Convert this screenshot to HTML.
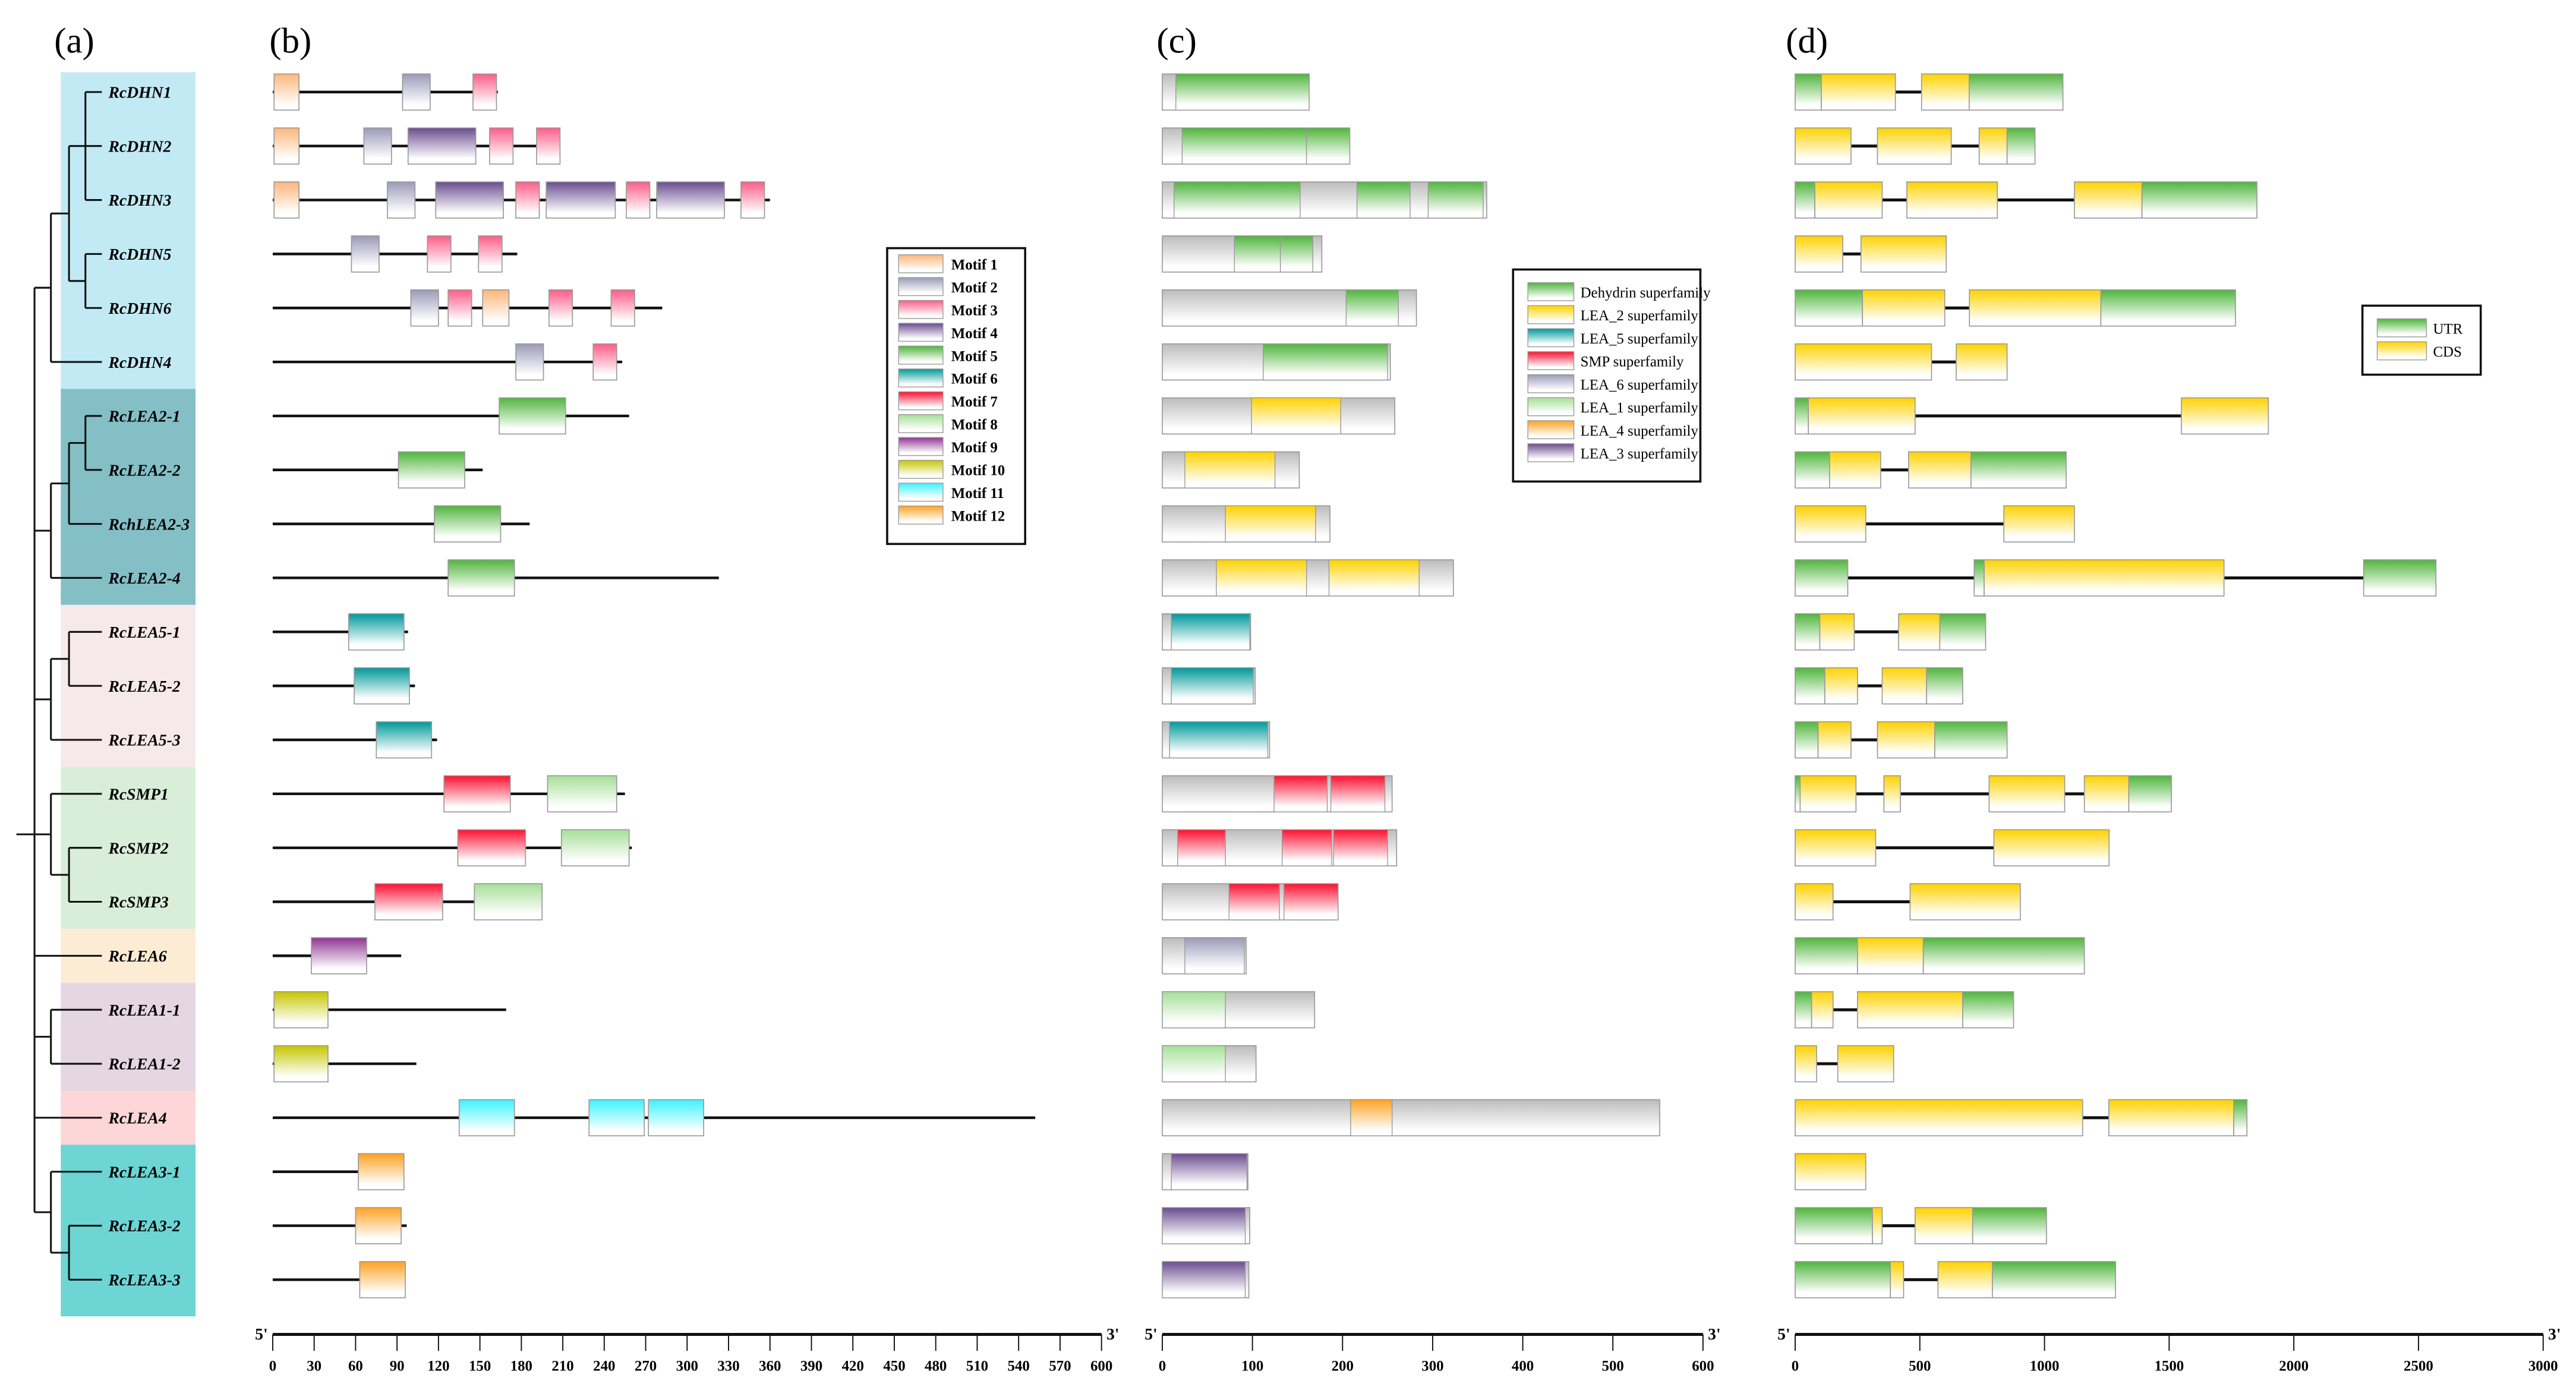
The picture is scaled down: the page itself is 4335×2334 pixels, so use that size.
<!DOCTYPE html>
<html><head><meta charset="utf-8"><style>
html,body{margin:0;padding:0;background:#fff;}
svg{display:block;}
text{font-family:"Liberation Serif",serif;}
</style></head><body>
<svg id="fig" width="4335" height="2334" viewBox="0 0 1568 844" preserveAspectRatio="none" xmlns="http://www.w3.org/2000/svg">
<defs id="defs"></defs>
<g id="bands"></g><g id="tree"></g><g id="panelb"></g><g id="panelc"></g><g id="paneld"></g><g id="legends"></g><g id="axes"></g>
<text x="33" y="32" font-size="22">(a)</text>
<text x="164" y="32" font-size="22">(b)</text>
<text x="704" y="32" font-size="22">(c)</text>
<text x="1087" y="32" font-size="22">(d)</text>
</svg>
<script>
const genes=["RcDHN1","RcDHN2","RcDHN3","RcDHN5","RcDHN6","RcDHN4","RcLEA2-1","RcLEA2-2","RchLEA2-3","RcLEA2-4","RcLEA5-1","RcLEA5-2","RcLEA5-3","RcSMP1","RcSMP2","RcSMP3","RcLEA6","RcLEA1-1","RcLEA1-2","RcLEA4","RcLEA3-1","RcLEA3-2","RcLEA3-3"];
const groupNames=["DHN","LEA2","LEA5","SMP","LEA6","LEA1","LEA4","LEA3"];
const groupStart=[0,6,10,13,16,17,19,20];
const groupEnd=[5,9,12,15,16,18,19,22];
const groupColors=["#c2eaf4","#84bfc6","#f6e9ea","#d9eed9","#fcecd4","#e4d6e2","#fdd7d8","#6dd5d4"];
const proteinLen=[163,208,360,177,282,253,258,152,186,323,98,103,119,255,260,195,93,169,104,552,95,97,96];
const motifs=[
 [[1,1,19],[2,94,114],[3,145,162]],
 [[1,1,19],[2,66,86],[4,98,147],[3,157,174],[3,191,208]],
 [[1,1,19],[2,83,103],[4,118,167],[3,176,193],[4,198,248],[3,256,273],[4,278,327],[3,339,356]],
 [[2,57,77],[3,112,129],[3,149,166]],
 [[2,100,120],[3,127,144],[1,152,171],[3,200,217],[3,245,262]],
 [[2,176,196],[3,232,249]],
 [[5,164,212]],[[5,91,139]],[[5,117,165]],[[5,127,175]],
 [[6,55,95]],[[6,59,99]],[[6,75,115]],
 [[7,124,172],[8,199,249]],[[7,134,183],[8,209,258]],[[7,74,123],[8,146,195]],
 [[9,28,68]],[[10,1,40]],[[10,1,40]],
 [[11,135,175],[11,229,269],[11,272,312]],
 [[12,62,95]],[[12,60,93]],[[12,63,96]]];
const motifColors=["#ffb67a","#9c9ab8","#ff5c88","#6b4d90","#4fb53c","#00999a","#ff1030","#a6df98","#8f3592","#c6c600","#3cf2ff","#ffa224"];
const domains=[
 [["DEH",15,163]],[["DEH",22,160],["DEH",160,208]],[["DEH",13,153],["DEH",216,275],["DEH",295,356]],
 [["DEH",80,131],["DEH",131,167]],[["DEH",204,262]],[["DEH",112,250]],
 [["LEA2",99,198]],[["LEA2",25,125]],[["LEA2",70,170]],[["LEA2",60,160],["LEA2",185,285]],
 [["LEA5",10,97]],[["LEA5",10,101]],[["LEA5",8,117]],
 [["SMP",124,183],["SMP",187,247]],[["SMP",17,70],["SMP",133,188],["SMP",190,250]],[["SMP",74,130],["SMP",135,195]],
 [["LEA6",25,91]],[["LEA1",0,70]],[["LEA1",0,70]],[["LEA4",209,255]],
 [["LEA3",10,94]],[["LEA3",0,92]],[["LEA3",0,92]]];
const domainKeys=["DEH","LEA2","LEA5","SMP","LEA6","LEA1","LEA4","LEA3"];
const domainLabels=["Dehydrin superfamily","LEA_2 superfamily","LEA_5 superfamily","SMP superfamily","LEA_6 superfamily","LEA_1 superfamily","LEA_4 superfamily","LEA_3 superfamily"];
const domainColors=["#4fb53c","#ffd200","#00999a","#ff1030","#9c9ab8","#a6df98","#ffa224","#6b4d90"];
const geneStruct=[
 [["U",0,105],["C",105,402],["C",507,698],["U",698,1074]],
 [["C",0,224],["C",330,626],["C",738,850],["U",850,962]],
 [["U",0,79],["C",79,349],["C",448,811],["C",1120,1391],["U",1391,1852]],
 [["C",0,191],["C",264,606]],
 [["U",0,270],["C",270,600],["C",699,1226],["U",1226,1766]],
 [["C",0,547],["C",646,850]],
 [["U",0,53],["C",53,481],["C",1549,1898]],
 [["U",0,138],["C",138,343],["C",455,705],["U",705,1087]],
 [["C",0,283],["C",837,1120]],
 [["U",0,211],["U",718,758],["C",758,1720],["U",2280,2570]],
 [["U",0,99],["C",99,237],["C",415,580],["U",580,764]],
 [["U",0,119],["C",119,250],["C",349,527],["U",527,672]],
 [["U",0,92],["C",92,224],["C",330,560],["U",560,850]],
 [["U",0,20],["C",20,244],["C",356,422],["C",778,1081],["C",1160,1338],["U",1338,1509]],
 [["C",0,323],["C",797,1259]],
 [["C",0,152],["C",461,903]],
 [["U",0,250],["C",250,514],["U",514,1160]],
 [["U",0,66],["C",66,152],["C",250,672],["U",672,876]],
 [["C",0,86],["C",171,395]],
 [["C",0,1153],["C",1258,1759],["U",1759,1812]],
 [["C",0,283]],
 [["U",0,310],["C",310,349],["C",481,712],["U",712,1008]],
 [["U",0,382],["C",382,435],["C",573,791],["U",791,1285]]];
const bTicks=[0,30,60,90,120,150,180,210,240,270,300,330,360,390,420,450,480,510,540,570,600];
const cTicks=[0,100,200,300,400,500,600];
const dTicks=[0,500,1000,1500,2000,2500,3000];

const NS="http://www.w3.org/2000/svg";
function mk(tag,attrs,parent){const e=document.createElementNS(NS,tag);for(const k in attrs)e.setAttribute(k,attrs[k]);parent.appendChild(e);return e;}
const rowY=i=>56+i*32.85;
const xb=v=>166+v*0.8408;
const xc=v=>707.5+v*0.5485;
const xd=v=>1092.7+v*0.15177;
const H=11;
const defs=document.getElementById('defs');
function grad(id,col){const g=mk('linearGradient',{id:id,x1:0,y1:0,x2:0,y2:1},defs);mk('stop',{offset:0,'stop-color':col},g);mk('stop',{offset:0.85,'stop-color':'#ffffff'},g);mk('stop',{offset:1,'stop-color':'#ffffff'},g);}
motifColors.forEach((c,i)=>grad('gm'+(i+1),c));
domainColors.forEach((c,i)=>grad('gd'+i,c));
grad('ggray','#bcbcbc');grad('gU','#4fb53c');grad('gC','#ffd200');

// bands
const bands=document.getElementById('bands');
groupNames.forEach((g,i)=>{
 const y0=groupStart[i]===0?44:(rowY(groupStart[i])+rowY(groupStart[i]-1))/2;
 const y1=groupEnd[i]===genes.length-1?801:(rowY(groupEnd[i])+rowY(groupEnd[i]+1))/2;
 const r=mk('rect',{x:37,y:y0,width:82,height:y1-y0,fill:groupColors[i]},bands);
 
 
});
// tree
const tree=document.getElementById('tree');
function seg(x1,y1,x2,y2){const l=mk('line',{x1:x1,y1:y1,x2:x2,y2:y2,stroke:'#111','stroke-width':1.1},tree);}
const L=62;
function leaf(i,x){seg(x,rowY(i),L,rowY(i));}
// DHN
const m12=rowY(1), m56=(rowY(3)+rowY(4))/2, dA=(m12+m56)/2, dB=(dA+rowY(5))/2;
seg(52,rowY(0),52,rowY(2));leaf(0,52);leaf(1,52);leaf(2,52);
seg(52,rowY(3),52,rowY(4));leaf(3,52);leaf(4,52);
seg(42,m12,42,m56);seg(42,m12,52,m12);seg(42,m56,52,m56);
seg(31,dA,31,rowY(5));seg(31,dA,42,dA);leaf(5,31);
seg(21,dB,31,dB);
// LEA2
const l12=(rowY(6)+rowY(7))/2, l3=(l12+rowY(8))/2, l4=(l3+rowY(9))/2;
seg(52,rowY(6),52,rowY(7));leaf(6,52);leaf(7,52);
seg(42,l12,42,rowY(8));seg(42,l12,52,l12);leaf(8,42);
seg(31,l3,31,rowY(9));seg(31,l3,42,l3);leaf(9,31);
seg(21,l4,31,l4);
// LEA5
const f12=(rowY(10)+rowY(11))/2, f3=(f12+rowY(12))/2;
seg(42,rowY(10),42,rowY(11));leaf(10,42);leaf(11,42);
seg(31,f12,31,rowY(12));seg(31,f12,42,f12);leaf(12,31);seg(21,f3,31,f3);
// SMP
const s23=(rowY(14)+rowY(15))/2, s1=(rowY(13)+s23)/2;
seg(42,rowY(14),42,rowY(15));leaf(14,42);leaf(15,42);
seg(31,rowY(13),31,s23);seg(31,s23,42,s23);leaf(13,31);
seg(10,s1,31,s1);
leaf(16,21);
const a12=(rowY(17)+rowY(18))/2;seg(31,rowY(17),31,rowY(18));leaf(17,31);leaf(18,31);seg(21,a12,31,a12);
leaf(19,21);
const t23=(rowY(21)+rowY(22))/2, t1=(rowY(20)+t23)/2;
seg(42,rowY(21),42,rowY(22));leaf(21,42);leaf(22,42);
seg(31,rowY(20),31,t23);seg(31,t23,42,t23);leaf(20,31);seg(21,t1,31,t1);
seg(21,dB,21,t1);

// labels
genes.forEach((g,i)=>{
 const t=mk('text',{x:66,y:rowY(i)+3.5,'font-size':10,'font-weight':'bold','font-style':'italic'},tree);
 t.textContent=g;
 
 
});

// panel b
const pb=document.getElementById('panelb');
genes.forEach((g,i)=>{
 const y=rowY(i);
 const l=mk('line',{x1:xb(0),y1:y,x2:xb(proteinLen[i]),y2:y,stroke:'#111','stroke-width':1.6},pb);
 
 
 motifs[i].forEach(m=>{
  const r=mk('rect',{x:xb(m[1]),y:y-H,width:xb(m[2])-xb(m[1]),height:2*H,fill:'url(#gm'+m[0]+')',stroke:'#999','stroke-width':0.6},pb);
  
  
 });
});
// panel c
const pc=document.getElementById('panelc');
genes.forEach((g,i)=>{
 const y=rowY(i);
 const r=mk('rect',{x:xc(0),y:y-H,width:xc(proteinLen[i])-xc(0),height:2*H,fill:'url(#ggray)',stroke:'#999','stroke-width':0.6},pc);
 
 
 domains[i].forEach(d=>{
  const k=domainKeys.indexOf(d[0]);
  const b=mk('rect',{x:xc(d[1]),y:y-H,width:xc(d[2])-xc(d[1]),height:2*H,fill:'url(#gd'+k+')',stroke:'#999','stroke-width':0.5},pc);
  
  
 });
});
// panel d
const pd=document.getElementById('paneld');
geneStruct.forEach((segs,i)=>{
 const y=rowY(i);
 const end=segs[segs.length-1][2];
 const l=mk('line',{x1:xd(0),y1:y,x2:xd(end),y2:y,stroke:'#111','stroke-width':1.8},pd);
 
 
 segs.forEach(s=>{
  const r=mk('rect',{x:xd(s[1]),y:y-H,width:xd(s[2])-xd(s[1]),height:2*H,fill:'url(#g'+s[0]+')',stroke:'#999','stroke-width':0.6},pd);
  
  
 });
});
// legends
const lg=document.getElementById('legends');
function legendBox(x,y,w,h,name){const r=mk('rect',{x:x,y:y,width:w,height:h,fill:'#fff',stroke:'#111','stroke-width':1.3},lg);}
legendBox(540,151,84,180,'motif-legend');
motifColors.forEach((c,i)=>{
 const y=155+i*13.9;
 const r=mk('rect',{x:547,y:y,width:27,height:11,fill:'url(#gm'+(i+1)+')',stroke:'#999','stroke-width':0.5},lg);
 
 
 const t=mk('text',{x:579,y:y+9,'font-size':9,'font-weight':'bold'},lg);
 t.textContent='Motif '+(i+1);
 
 
});
legendBox(921,164,114,129,'domain-legend');
domainLabels.forEach((lab,i)=>{
 const y=172+i*14;
 const r=mk('rect',{x:930,y:y,width:28,height:11,fill:'url(#gd'+i+')',stroke:'#999','stroke-width':0.5},lg);
 
 
 const t=mk('text',{x:962,y:y+9,'font-size':9},lg);
 t.textContent=lab;
 
 
});
legendBox(1438,186,72,42,'structure-legend');
[['U','UTR'],['C','CDS']].forEach((p,i)=>{
 const y=194+i*14;
 const r=mk('rect',{x:1447,y:y,width:30,height:11,fill:'url(#g'+p[0]+')',stroke:'#999','stroke-width':0.5},lg);
 
 
 const t=mk('text',{x:1481,y:y+9,'font-size':9},lg);
 t.textContent=p[1];
 
 
});
// axes
const ax=document.getElementById('axes');
function axis(fn,ticks,name,y){
 const l=mk('line',{x1:fn(ticks[0]),y1:y,x2:fn(ticks[ticks.length-1]),y2:y,stroke:'#111','stroke-width':1.8},ax);
 
 
 ticks.forEach(v=>{
  const t=mk('line',{x1:fn(v),y1:y,x2:fn(v),y2:y+10,stroke:'#111','stroke-width':0.7},ax);
  
  
  const tx=mk('text',{x:fn(v),y:y+22,'font-size':9,'font-weight':'bold','text-anchor':'middle'},ax);
  tx.textContent=v;
  
  
 });
 const a=mk('text',{x:fn(ticks[0])-3,y:y+3,'font-size':10,'font-weight':'bold','text-anchor':'end'},ax);
 a.textContent="5'";
 
 
 const b=mk('text',{x:fn(ticks[ticks.length-1])+3,y:y+3,'font-size':10,'font-weight':'bold'},ax);
 b.textContent="3'";
 
 
}
axis(xb,bTicks,'motif',812);
axis(xc,cTicks,'domain',812);
axis(xd,dTicks,'gene-structure',812);
</script>
</body></html>
